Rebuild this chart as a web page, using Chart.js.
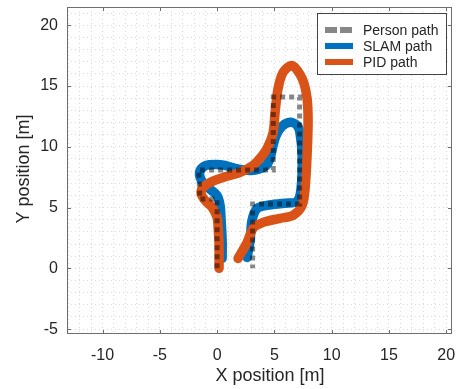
<!DOCTYPE html>
<html>
<head>
<meta charset="utf-8">
<script src="https://cdn.jsdelivr.net/npm/chart.js@4/dist/chart.umd.min.js"></script>
<style>
  body { margin: 0; background: #fff; }
  canvas { display: block; }
</style>
</head>
<body>
<canvas id="chartPath" width="457" height="389"></canvas>
<script>
// person path (reference route)
const personX = [0, 0, -1.5, -1.6, 4.9, 4.9, 7.2, 7.2, 3.1, 3.1];
const personY = [0, 5.7, 5.7, 8.1, 8.1, 14.1, 14.1, 5.3, 5.3, 0];

// SLAM estimate
const slamX = [0.44, 0.44, 0.35, 0.26, 0.00, -0.61, -1.13, -1.48, -1.48, -0.96, -0.17, 0.70, 1.57, 2.62, 3.58,
  4.28, 4.62, 4.89, 5.15, 5.67, 6.37, 6.98, 7.24, 7.42, 7.33, 6.98, 5.93, 4.36, 3.49, 3.05, 2.88, 2.62];
const slamY = [0.82, 2.30, 3.95, 5.18, 6.00, 6.50, 6.91, 7.48, 8.06, 8.47, 8.55, 8.47, 8.22, 8.06, 8.14,
  8.47, 9.05, 10.12, 10.94, 11.68, 12.01, 11.76, 11.10, 9.29, 6.58, 5.51, 5.35, 5.18, 4.93, 3.95, 2.30, 0.90];

// PID driven robot
const pidX = [0.17, 0.17, 0.09, 0.00, -0.44, -1.05, -1.40, -1.22, -0.61, 0.52, 2.01, 3.14, 3.75, 4.36, 4.89,
  5.06, 5.32, 5.76, 6.54, 7.42, 7.85, 7.94, 7.85, 7.68, 7.42, 6.63, 5.50, 4.01, 3.14, 2.62, 1.83];
const pidY = [0.00, 1.89, 3.37, 4.19, 5.02, 5.59, 6.17, 6.66, 7.07, 7.48, 7.89, 8.47, 9.05, 9.87, 11.18,
  12.83, 14.80, 16.12, 16.69, 15.63, 13.98, 12.01, 9.29, 6.58, 5.18, 4.36, 4.11, 3.78, 3.29, 2.14, 0.82];

const xTicks = [-10, -5, 0, 5, 10, 15, 20];
const yTicks = [-5, 0, 5, 10, 15, 20];

const FONT = 'Liberation Sans, Arial, sans-serif';

function toPoints(xs, ys) {
  return xs.map((x, i) => ({ x: x, y: ys[i] }));
}

// no extra room for half tick labels, the area is fixed
function noPad(s) {
  s.paddingLeft = 0;
  s.paddingRight = 0;
  s.paddingTop = 0;
  s.paddingBottom = 0;
}

// box with inward ticks, axis titles and legend (matlab look)
const matlabLook = {
  id: 'matlabLook',
  afterDraw(chart) {
    const ctx = chart.ctx;
    const a = chart.chartArea;
    const sx = chart.scales.x;
    const sy = chart.scales.y;
    ctx.save();
    ctx.strokeStyle = '#6e6e6e';
    ctx.lineWidth = 1;
    ctx.strokeRect(Math.round(a.left) + 0.5, Math.round(a.top) + 0.5,
      Math.round(a.right - a.left) - 1, Math.round(a.bottom - a.top) - 1);
    ctx.beginPath();
    xTicks.forEach(v => {
      const px = Math.round(sx.getPixelForValue(v)) + 0.5;
      ctx.moveTo(px, a.bottom); ctx.lineTo(px, a.bottom - 4);
      ctx.moveTo(px, a.top); ctx.lineTo(px, a.top + 4);
    });
    yTicks.forEach(v => {
      const py = Math.round(sy.getPixelForValue(v)) + 0.5;
      ctx.moveTo(a.left, py); ctx.lineTo(a.left + 4, py);
      ctx.moveTo(a.right, py); ctx.lineTo(a.right - 4, py);
    });
    ctx.stroke();

    // axis titles
    ctx.fillStyle = '#262626';
    ctx.font = '18px ' + FONT;
    ctx.textAlign = 'center';
    ctx.textBaseline = 'middle';
    ctx.fillText('X position [m]', 270, 376);
    ctx.translate(24, 169);
    ctx.rotate(-Math.PI / 2);
    ctx.fillText('Y position [m]', 0, 0);
    ctx.restore();

    // legend
    ctx.save();
    const lx = a.right - 135, ly = a.top + 6, lw = 130, lh = 62;
    ctx.fillStyle = '#fff';
    ctx.fillRect(lx, ly, lw, lh);
    ctx.strokeStyle = '#444';
    ctx.lineWidth = 1;
    ctx.strokeRect(lx + 0.5, ly + 0.5, lw - 1, lh - 1);
    ctx.font = '14px ' + FONT;
    ctx.textAlign = 'left';
    ctx.textBaseline = 'middle';
    chart.data.datasets.forEach((ds, i) => {
      const yy = ly + 17 + i * 16;
      ctx.beginPath();
      ctx.strokeStyle = ds.legendColor;
      ctx.lineWidth = 6;
      ctx.lineCap = 'butt';
      ctx.setLineDash(ds.legendDash);
      ctx.moveTo(lx + 8, yy);
      ctx.lineTo(lx + 36, yy);
      ctx.stroke();
      ctx.setLineDash([]);
      ctx.fillStyle = '#262626';
      ctx.fillText(ds.label, lx + 46, yy + 1);
    });
    ctx.restore();
  }
};

function init() {
  const ctx = document.getElementById('chartPath').getContext('2d');
  new Chart(ctx, {
    type: 'scatter',
    data: {
      datasets: [
        {
          label: 'Person path',
          data: toPoints(personX, personY),
          showLine: true,
          borderColor: 'rgba(0,0,0,0.47)',
          legendColor: '#878787',
          legendDash: [12, 3],
          borderWidth: 5,
          borderDash: [5, 4],
          borderCapStyle: 'butt',
          tension: 0,
          pointRadius: 0,
          order: 0
        },
        {
          label: 'SLAM path',
          data: toPoints(slamX, slamY),
          showLine: true,
          borderColor: '#0072BD',
          legendColor: '#0072BD',
          legendDash: [],
          borderWidth: 9.5,
          borderCapStyle: 'round',
          borderJoinStyle: 'round',
          tension: 0.3,
          pointRadius: 0,
          order: 2
        },
        {
          label: 'PID path',
          data: toPoints(pidX, pidY),
          showLine: true,
          borderColor: '#D95319',
          legendColor: '#D95319',
          legendDash: [],
          borderWidth: 9.5,
          borderCapStyle: 'round',
          borderJoinStyle: 'round',
          tension: 0.3,
          pointRadius: 0,
          order: 1
        }
      ]
    },
    options: {
      responsive: false,
      animation: false,
      devicePixelRatio: 1,
      layout: { padding: { top: 7, right: 5, left: 0, bottom: 0 } },
      plugins: {
        legend: { display: false },
        tooltip: { enabled: false }
      },
      scales: {
        x: {
          type: 'linear',
          min: -13.1,
          max: 20.5,
          afterFit: s => { s.height = 55; noPad(s); },
          grid: { color: '#dedede', drawTicks: false },
          border: { display: false, dash: [1, 3] },
          ticks: {
            stepSize: 1,
            includeBounds: false,
            autoSkip: false,
            maxRotation: 0,
            padding: 12,
            color: '#262626',
            font: { family: FONT, size: 16 },
            callback: v => (xTicks.includes(v) ? String(v) : '')
          }
        },
        y: {
          type: 'linear',
          min: -5.4,
          max: 21.5,
          afterFit: s => { s.width = 67; noPad(s); },
          grid: { color: '#dedede', drawTicks: false },
          border: { display: false, dash: [1, 3] },
          ticks: {
            stepSize: 1,
            includeBounds: false,
            autoSkip: false,
            padding: 9,
            color: '#262626',
            font: { family: FONT, size: 16 },
            callback: v => (yTicks.includes(v) ? String(v) : '')
          }
        }
      }
    },
    plugins: [matlabLook]
  });
}

window.addEventListener('DOMContentLoaded', init);
</script>
</body>
</html>
